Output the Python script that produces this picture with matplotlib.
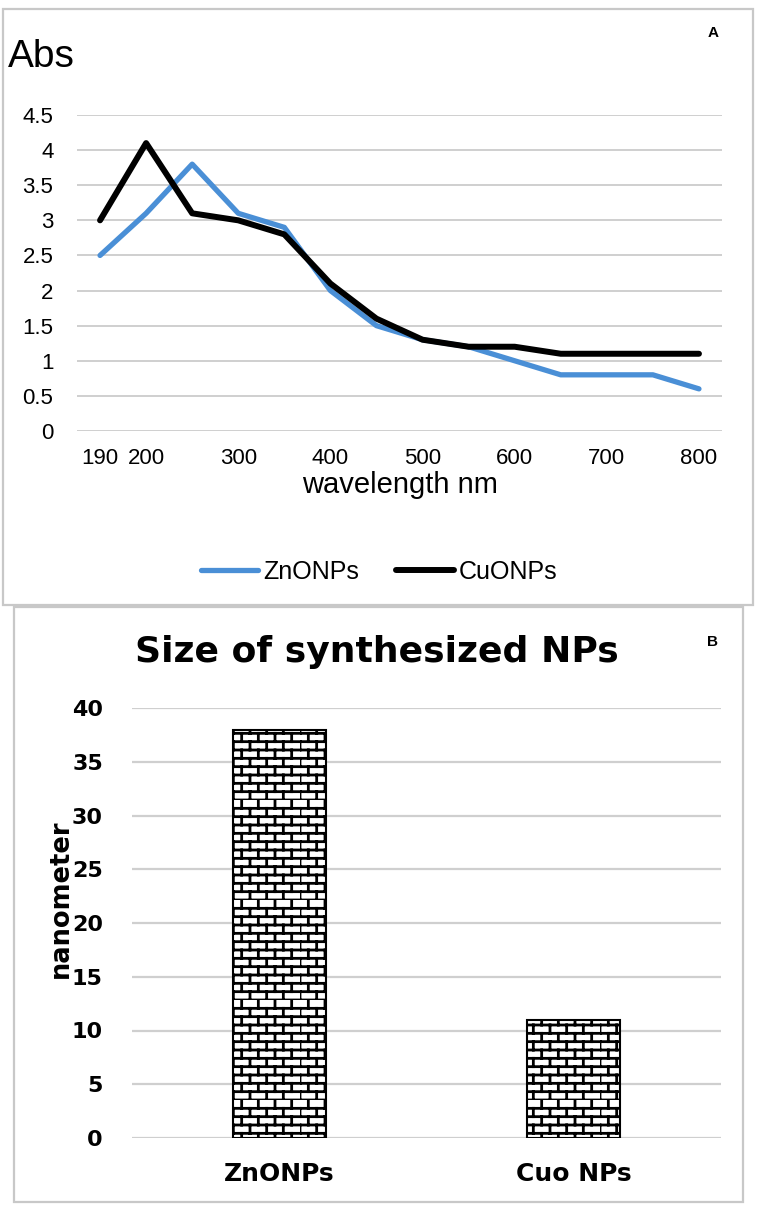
import numpy as np
import matplotlib
matplotlib.use('Agg')
import matplotlib.pyplot as plt
import matplotlib.hatch as mhatch
from matplotlib.path import Path
from matplotlib.patches import Rectangle

# panel A - UV-vis absorbance
wavelength = [190, 200, 250, 300, 350, 400, 450, 500, 550, 600, 650, 700, 750, 800]
zno_abs = [2.5, 3.1, 3.8, 3.1, 2.9, 2.0, 1.5, 1.3, 1.2, 1.0, 0.8, 0.8, 0.8, 0.6]
cuo_abs = [3.0, 4.1, 3.1, 3.0, 2.8, 2.1, 1.6, 1.3, 1.2, 1.2, 1.1, 1.1, 1.1, 1.1]
abs_ticks = [0, 0.5, 1, 1.5, 2, 2.5, 3, 3.5, 4, 4.5]

# panel B - particle size
np_names = ['ZnONPs', 'Cuo NPs']
np_size = [38, 11]
size_ticks = [0, 5, 10, 15, 20, 25, 30, 35, 40]

W, H = 765, 1212


# brick hatch (replaces the '+' pattern), one hatch cell = dpi pixels
class BrickHatch(mhatch.HatchPatternBase):
    def __init__(self, hatch, density):
        self.rows = 12 if '+' in hatch else 0
        self.cols = 6
        self.num_lines = self.rows * (1 + self.cols)
        self.num_vertices = self.num_lines * 2

    def set_vertices_and_codes(self, vertices, codes):
        k = 0
        h = 1.0 / self.rows
        w = 1.0 / self.cols
        for i in range(self.rows):
            y0 = i * h
            vertices[k] = (0, y0)
            vertices[k + 1] = (1, y0)
            k += 2
            off = 0 if i % 2 == 0 else w / 2
            for j in range(self.cols):
                xx = off + j * w
                vertices[k] = (xx, y0)
                vertices[k + 1] = (xx, y0 + h)
                k += 2
        codes[0::2] = Path.MOVETO
        codes[1::2] = Path.LINETO


mhatch._hatch_types = [BrickHatch]
plt.rcParams['hatch.linewidth'] = 2.0
plt.rcParams['hatch.color'] = 'black'

fig = plt.figure(figsize=(W / 100, H / 100), dpi=100)
fig.patch.set_facecolor('white')

# panel borders
fig.add_artist(Rectangle((3 / W, 1 - 605 / H), 750 / W, 596 / H, transform=fig.transFigure,
                         fill=False, ec='#c8c8c8', lw=1.6))
fig.add_artist(Rectangle((14 / W, 1 - 1202 / H), 729 / W, 595 / H, transform=fig.transFigure,
                         fill=False, ec='#c8c8c8', lw=1.6))

fa = 'Liberation Sans'
fb = 'DejaVu Sans'

# ---------- panel A ----------
ax1 = fig.add_axes([77 / W, 1 - 431 / H, 645 / W, 316 / H])
x = np.arange(len(wavelength))
ax1.plot(x, zno_abs, color='#4a8fd6', lw=3.8, solid_capstyle='round', solid_joinstyle='round',
         label='ZnONPs', zorder=3)
ax1.plot(x, cuo_abs, color='black', lw=4.3, solid_capstyle='round', solid_joinstyle='round',
         label='CuONPs', zorder=4)
ax1.set_xlim(-0.5, len(wavelength) - 0.5)
ax1.set_ylim(0, 4.5)
ax1.set_yticks(abs_ticks)
ax1.set_yticklabels(['{:g}'.format(t) for t in abs_ticks], fontfamily=fa, fontsize=16)
ax1.set_xticks(x)
ax1.set_xticklabels([str(w) if (w % 100 == 0 or w == 190) else '' for w in wavelength],
                    fontfamily=fa, fontsize=16)
ax1.tick_params(length=0)
ax1.tick_params(axis='x', pad=12)
ax1.tick_params(axis='y', pad=17)
ax1.grid(axis='y', color='#cfcfcf', lw=1.4)
ax1.set_axisbelow(True)
for s in ax1.spines.values():
    s.set_visible(False)
ax1.set_xlabel('wavelength nm', fontfamily=fa, fontsize=21, labelpad=2)
fig.text(8 / W, 1 - 67 / H, 'Abs', fontfamily=fa, fontsize=28, va='baseline', ha='left')
fig.text(713 / W, 1 - 33 / H, 'A', fontfamily=fa, fontsize=11, fontweight='bold', ha='center', va='center')
ax1.legend(loc='center', bbox_to_anchor=(379 / W, 1 - 572 / H), bbox_transform=fig.transFigure,
           ncol=2, frameon=False, prop={'family': fa, 'size': 18}, handlelength=2.3,
           handletextpad=0.2, columnspacing=1.5)

# ---------- panel B ----------
ax2 = fig.add_axes([132 / W, 1 - 1138 / H, 589 / W, 430 / H])
xb = np.arange(len(np_names))
ax2.bar(xb, np_size, width=0.316, color='white', edgecolor='black', lw=1.5, hatch='+', zorder=3)
ax2.set_xlim(-0.5, len(np_names) - 0.5)
ax2.set_ylim(0, 40)
ax2.set_yticks(size_ticks)
ax2.set_yticklabels([str(t) for t in size_ticks], fontfamily=fb, fontsize=16, fontweight='bold')
ax2.set_xticks(xb)
ax2.set_xticklabels(np_names, fontfamily=fb, fontsize=18, fontweight='bold')
ax2.tick_params(length=0)
ax2.tick_params(axis='x', pad=17)
ax2.tick_params(axis='y', pad=21)
ax2.grid(axis='y', color='#cfcfcf', lw=1.6)
ax2.set_axisbelow(True)
for s in ax2.spines.values():
    s.set_visible(False)
fig.text(377 / W, 1 - 662 / H, 'Size of synthesized NPs', fontfamily=fb, fontsize=26,
         fontweight='bold', ha='center', va='baseline')
fig.text(61 / W, 1 - 899 / H, 'nanometer', fontfamily=fb, fontsize=18.5, fontweight='bold',
         rotation=90, ha='center', va='center')
fig.text(713 / W, 1 - 642 / H, 'B', fontfamily=fa, fontsize=11, fontweight='bold', ha='center', va='center')

fig.savefig('out.png', dpi=100)
